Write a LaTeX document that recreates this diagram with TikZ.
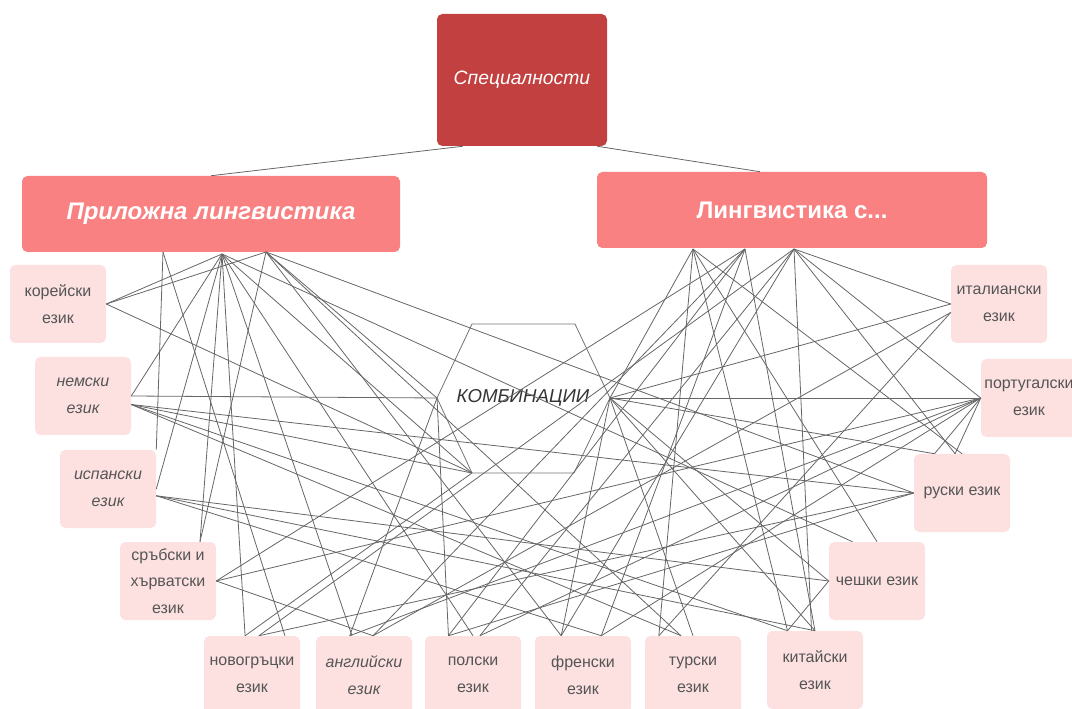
\documentclass[tikz,border=0pt]{standalone}
\usepackage{fontspec}
\setmainfont{Liberation Sans}
\usetikzlibrary{shapes}
\definecolor{specred}{HTML}{C2403F}
\definecolor{headpink}{HTML}{F98182}
\definecolor{langpink}{HTML}{FDE1E1}
\definecolor{linkgray}{HTML}{666666}
\definecolor{langtext}{HTML}{555555}

\begin{document}
\begin{tikzpicture}[x=0.75pt,y=-0.75pt]
\tikzstyle{lang}=[rectangle, fill=langpink, rounded corners=4pt, minimum width=72pt, minimum height=58.5pt, text=langtext, align=center, inner sep=1pt, font=\fontsize{12}{20}\selectfont]
\tikzstyle{head}=[rectangle, fill=headpink, rounded corners=4pt, minimum height=57pt, text=white, font=\fontsize{18}{22}\selectfont\bfseries\itshape]
\tikzstyle{link}=[draw=linkgray, line width=0.6pt]
\useasboundingbox (0,0) rectangle (1072,709);

% top and the two specialities
\node[rectangle, fill=specred, rounded corners=4pt, minimum width=127.5pt, minimum height=99pt, text=white, font=\fontsize{14.5}{17}\selectfont\itshape] (spec) at (522,80) {Специалности};
\node[head, minimum width=283.5pt] (prilozhna) at (211,214) {Приложна лингвистика};
\node[head, minimum width=292.5pt, font=\fontsize{18}{22}\selectfont\bfseries] (lingv) at (792,210) {Лингвистика с...};

% languages, left side
\node[lang] (kor) at (58,304) {корейски\\език};
\node[lang, font=\fontsize{12}{20}\selectfont\itshape] (nem) at (83,396) {немски\\език};
\node[lang, font=\fontsize{12}{20}\selectfont\itshape] (isp) at (108,489) {испански\\език};
\node[lang] (srb) at (168,581) {сръбски и\\хърватски\\език};
% languages, bottom
\node[lang] (novo) at (252,675) {новогръцки\\език};
\node[lang, font=\fontsize{12}{20}\selectfont\itshape] (angl) at (364,675) {английски\\език};
\node[lang] (pol) at (473,675) {полски\\език};
\node[lang] (fren) at (583,675) {френски\\език};
\node[lang] (tur) at (693,675) {турски\\език};
\node[lang] (kit) at (815,670) {китайски\\език};
% languages, right side
\node[lang] (chesh) at (877,581) {чешки език};
\node[lang] (rus) at (962,493) {руски език};
\node[lang] (port) at (1029,398) {португалски\\език};
\node[lang] (ital) at (999,304) {италиански\\език};

% combinations hexagon
\coordinate (hL) at (437,398);
\coordinate (hTL) at (472,324);
\coordinate (hTR) at (575,324);
\coordinate (hR) at (610,398);
\coordinate (hBR) at (574,473);
\coordinate (hBL) at (472,473);
\draw[draw=black!55, line width=0.6pt] (hL) -- (hTL) -- (hTR) -- (hR) -- (hBR) -- (hBL) -- cycle;
\node[text=black!80, font=\fontsize{14}{17}\selectfont\itshape] (comb) at (523,398) {КОМБИНАЦИИ};

% feet of the fans
\coordinate (pA) at (163,252);
\coordinate (pB) at (222,254);
\coordinate (pC) at (266,252);
\coordinate (lA) at (693,249);
\coordinate (lB) at (745,249);
\coordinate (lC) at (794,249);

\path[link] ([xshift=19.5pt]spec.south west) edge (prilozhna.north)
            ([xshift=-7.5pt]spec.south east) edge ([xshift=-24pt]lingv.north);

\path[link] (pB) edge (kor.east)
                 edge (nem.east)
                 edge (isp.east)
                 edge ([xshift=24pt]srb.north)
                 edge (novo.100)
                 edge (angl.107)
                 edge (pol.north)
                 edge (hBL)
                 edge (chesh.122)
            (pC) edge (kor.east)
                 edge ([xshift=24pt]srb.north)
                 edge (hL)
                 edge (fren.119)
                 edge (tur.107)
                 edge (rus.west)
            (pA) edge (novo.50)
                 edge (isp.north east);

\path[link] (lA) edge (hR)
                 edge (tur.131)
                 edge (kit.125)
                 edge (chesh.north)
                 edge (rus.north)
            (lB) edge (fren.65)
                 edge (pol.122)
                 edge (angl.77)
                 edge (kit.north)
                 edge (srb.east)
            (lC) edge (ital.west)
                 edge (port.west)
                 edge (rus.100)
                 edge (kit.95)
                 edge (pol.80)
                 edge (fren.119)
                 edge (novo.80);

\path[link] (hL) edge (nem.east)
                 edge (angl.110)
                 edge (pol.122)
            (hBL) edge (kor.east)
                  edge (nem.-10)
            (hR) edge (ital.west)
                 edge (port.west)
                 edge (rus.125)
                 edge (chesh.west)
                 edge (kit.north)
                 edge (tur.north)
                 edge (fren.119);

\path[link] (nem.-10) edge (rus.west)
                      edge (kit.125)
                      edge (tur.107)
            (isp.-8) edge (chesh.west)
                     edge (kit.north)
                     edge (fren.65)
            (srb.east) edge (angl.77)
                       edge (port.west)
            (port.west) edge (angl.110)
                        edge (pol.80)
                        edge (fren.65)
                        edge (rus.125)
                        edge (rus.100)
            (ital.190) edge (tur.131)
                       edge (angl.77)
            (rus.west) edge (pol.122)
                       edge (novo.80)
            (chesh.west) edge (kit.125)
            (novo.100) edge (hBL);
\end{tikzpicture}
\end{document}
